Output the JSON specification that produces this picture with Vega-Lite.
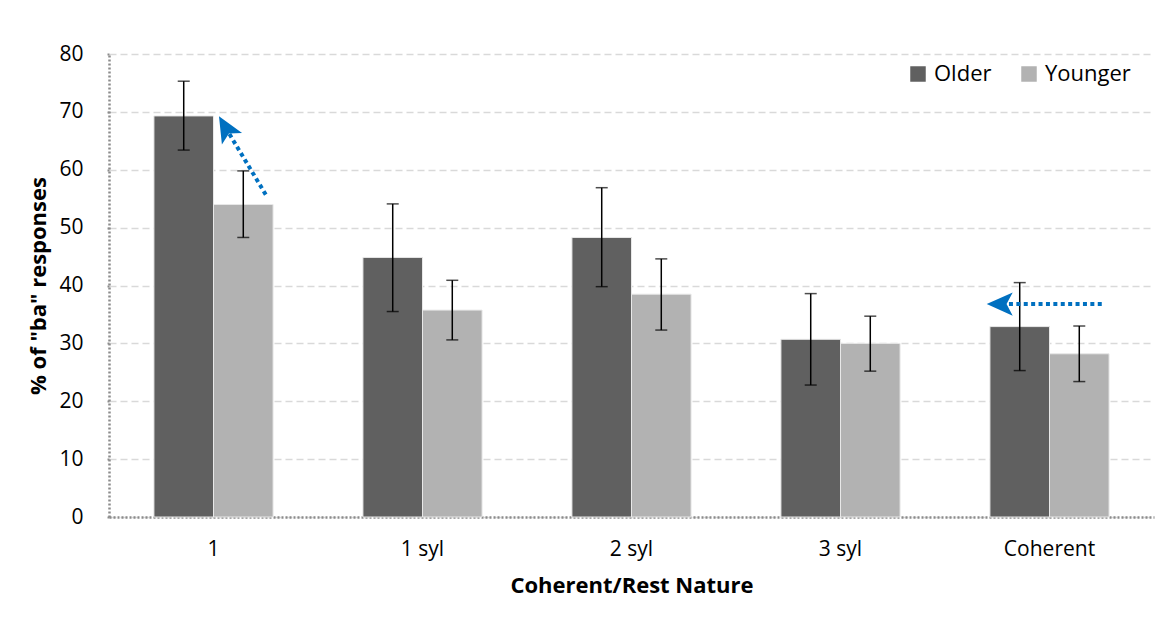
{
  "$schema": "https://vega.github.io/schema/vega-lite/v6.json",
  "autosize": {"type": "none"},
  "width": 1045,
  "height": 463,
  "padding": {"left": 109, "top": 54, "right": 22, "bottom": 103},
  "background": "white",
  "config": {
    "font": "Open Sans",
    "view": {"stroke": null},
    "axis": {"labelFont": "Open Sans", "titleFont": "Open Sans", "labelColor": "#000000", "titleColor": "#000000"}
  },
  "datasets": {
    "bars": [
      {"cat": "1", "group": "Older", "value": 69.3, "lo": 63.4, "hi": 75.3},
      {"cat": "1", "group": "Younger", "value": 54.0, "lo": 48.3, "hi": 59.8},
      {"cat": "1 syl", "group": "Older", "value": 44.85, "lo": 35.5, "hi": 54.1},
      {"cat": "1 syl", "group": "Younger", "value": 35.75, "lo": 30.6, "hi": 40.9},
      {"cat": "2 syl", "group": "Older", "value": 48.3, "lo": 39.8, "hi": 56.9},
      {"cat": "2 syl", "group": "Younger", "value": 38.5, "lo": 32.3, "hi": 44.6},
      {"cat": "3 syl", "group": "Older", "value": 30.7, "lo": 22.8, "hi": 38.6},
      {"cat": "3 syl", "group": "Younger", "value": 30.0, "lo": 25.2, "hi": 34.7},
      {"cat": "Coherent", "group": "Older", "value": 32.9, "lo": 25.3, "hi": 40.5},
      {"cat": "Coherent", "group": "Younger", "value": 28.2, "lo": 23.4, "hi": 33.0}
    ],
    "arrows": [
      {"id": "a1", "pos": 0.750, "y": 55.7, "order": 1},
      {"id": "a1", "pos": 0.574, "y": 66.3, "order": 2},
      {"id": "a2", "pos": 4.750, "y": 36.8, "order": 1},
      {"id": "a2", "pos": 4.295, "y": 36.8, "order": 2}
    ],
    "heads": [
      {"id": "a1", "pos": 0.559, "y": 67.2, "ang": 330},
      {"id": "a2", "pos": 4.265, "y": 36.8, "ang": 270}
    ]
  },
  "layer": [
    {
      "layer": [
        {
          "data": {"name": "bars"},
          "mark": {"type": "bar", "stroke": "#e8e8e8", "strokeWidth": 1},
          "encoding": {
            "x": {
              "field": "cat", "type": "nominal",
              "sort": ["1", "1 syl", "2 syl", "3 syl", "Coherent"],
              "scale": {"paddingInner": 0.43, "paddingOuter": 0.215},
              "axis": {
                "title": "Coherent/Rest Nature",
                "titleFontSize": 22, "titleFontWeight": "bold", "titlePadding": 16,
                "labelFontSize": 21, "labelAngle": 0, "labelPadding": 21,
                "ticks": false,
                "domainColor": "#8c8c8c", "domainDash": [2, 2], "domainWidth": 2.5,
                "grid": false
              }
            },
            "xOffset": {"field": "group", "type": "nominal", "scale": {"paddingInner": 0}},
            "y": {
              "field": "value", "type": "quantitative",
              "scale": {"domain": [0, 80], "nice": false},
              "axis": {
                "title": "% of \"ba\" responses",
                "titleFontSize": 22, "titleFontWeight": "bold", "titlePadding": 8,
                "values": [0, 10, 20, 30, 40, 50, 60, 70, 80],
                "labelFontSize": 21, "labelPadding": 22,
                "tickSize": 4, "tickColor": "#8c8c8c", "tickWidth": 2, "tickDash": [2, 2],
                "domainColor": "#8c8c8c", "domainDash": [2, 2], "domainWidth": 2.5,
                "grid": true, "gridColor": "#d9d9d9", "gridDash": [7, 4], "gridWidth": 1.5
              }
            },
            "color": {
              "field": "group", "type": "nominal",
              "scale": {"domain": ["Older", "Younger"], "range": ["#606060", "#b2b2b2"]},
              "legend": {
                "title": null, "orient": "none", "legendX": 798, "legendY": 9,
                "direction": "horizontal", "symbolType": "square", "symbolSize": 240,
                "symbolStrokeWidth": 0, "labelFontSize": 22, "labelFont": "Open Sans",
                "columnPadding": 26, "labelOffset": 5
              }
            }
          }
        },
        {
          "data": {"name": "bars"},
          "mark": {"type": "rule", "color": "#000000", "strokeWidth": 1.5},
          "encoding": {
            "x": {"field": "cat", "type": "nominal", "sort": ["1", "1 syl", "2 syl", "3 syl", "Coherent"]},
            "xOffset": {"field": "group", "type": "nominal"},
            "y": {"field": "lo", "type": "quantitative"},
            "y2": {"field": "hi"}
          }
        },
        {
          "data": {"name": "bars"},
          "mark": {"type": "tick", "color": "#000000", "thickness": 1.5, "size": 12},
          "encoding": {
            "x": {"field": "cat", "type": "nominal", "sort": ["1", "1 syl", "2 syl", "3 syl", "Coherent"]},
            "xOffset": {"field": "group", "type": "nominal"},
            "y": {"field": "lo", "type": "quantitative"}
          }
        },
        {
          "data": {"name": "bars"},
          "mark": {"type": "tick", "color": "#000000", "thickness": 1.5, "size": 12},
          "encoding": {
            "x": {"field": "cat", "type": "nominal", "sort": ["1", "1 syl", "2 syl", "3 syl", "Coherent"]},
            "xOffset": {"field": "group", "type": "nominal"},
            "y": {"field": "hi", "type": "quantitative"}
          }
        }
      ]
    },
    {
      "layer": [
        {
          "data": {"name": "arrows"},
          "mark": {"type": "line", "color": "#0070C0", "strokeWidth": 4, "strokeDash": [4, 3.4]},
          "encoding": {
            "x": {"field": "pos", "type": "quantitative", "scale": {"domain": [0, 5], "nice": false, "zero": false}, "axis": null},
            "y": {"field": "y", "type": "quantitative"},
            "detail": {"field": "id"},
            "order": {"field": "order"}
          }
        },
        {
          "data": {"name": "heads"},
          "mark": {"type": "point", "shape": "M0,-1L0.85,0.9L0,0.45L-0.85,0.9Z", "filled": true, "color": "#0070C0", "opacity": 1, "size": 750},
          "encoding": {
            "x": {"field": "pos", "type": "quantitative", "scale": {"domain": [0, 5], "nice": false, "zero": false}, "axis": null},
            "y": {"field": "y", "type": "quantitative"},
            "angle": {"field": "ang", "type": "quantitative", "scale": null}
          }
        }
      ]
    }
  ],
  "resolve": {"scale": {"x": "independent"}}
}
